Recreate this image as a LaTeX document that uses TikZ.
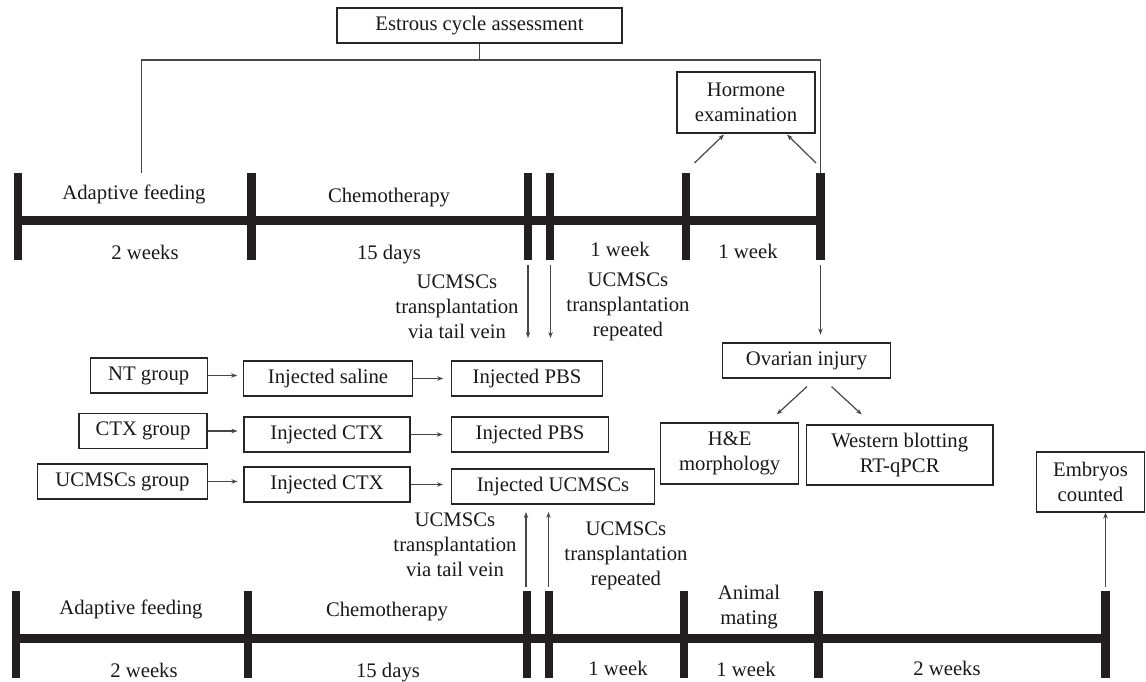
\documentclass[tikz,border=0pt]{standalone}
\usepackage{fontspec}
\setmainfont{Liberation Serif}
\usetikzlibrary{arrows.meta,calc}
\definecolor{tl}{RGB}{35,31,32}
\begin{document}
\begin{tikzpicture}[x=1pt,y=-1pt,
  every node/.style={font=\fontsize{20.7}{25}\selectfont, inner sep=0pt, text=black!90},
  box/.style={draw=black!85, line width=1.1pt, minimum height=35pt, align=center},
  lbl/.style={anchor=base},
  ml/.style={align=center},
  thin/.style={draw=black!72, line width=1.2pt},
  arr/.style={thin, -{Stealth[length=6pt,width=4.5pt]}},
  tk/.style={draw=tl, line width=8.5pt},
  bar/.style={draw=tl, line width=9pt}]
\useasboundingbox (0,0) rectangle (1146,682);

% ---------- top timeline ----------
\foreach \x/\n in {18/a,251.5/b,528/c,550/d,686/e,820.5/f}{
  \draw[tk] (\x,173) -- (\x,260);
  \coordinate (tt\n) at (\x,173);
}
\draw[bar] (18,220.5) -- (820.5,220.5);

\node[lbl] (ta1) at (134,200) {Adaptive feeding};
\node[lbl] (ta2) at (389,202.7) {Chemotherapy};
\node[lbl] (tb1) at (145,259) {2 weeks};
\node[lbl] (tb2) at (389,259) {15 days};
\node[lbl] (tb3) at (620,256) {1 week};
\node[lbl] (tb4) at (748,258) {1 week};

% ---------- top boxes ----------
\node[box, minimum width=285pt] (est) at (479.5,25.5) {Estrous cycle assessment};
\node[box, minimum width=138pt, minimum height=61pt] (horm) at (746,102.5) {Hormone\\examination};

\coordinate (hy) at (0,60);
\coordinate (cl) at (141.6,173);
\draw[thin] (est.south) -- (est.south |- hy);
\draw[thin] (cl) -- (cl |- hy) -- (ttf |- hy) -- (ttf);

\coordinate (ha) at (694.5,163);
\coordinate (hb) at (816,163);
\draw[arr] (ha) -- ($(horm.south)+(-22,1)$);
\draw[arr] (hb) -- ($(horm.south)+(41,1)$);

% ---------- transplantation texts (top) ----------
\node[ml] (tt1) at (457,306.5) {UCMSCs\\transplantation\\via tail vein};
\node[ml] (tt2) at (628,306.7) {UCMSCs\\transplantation\\repeated};
\coordinate (d1s) at (528,265);
\coordinate (d1e) at (528,338);
\coordinate (d2s) at (550.5,265);
\coordinate (d2e) at (550.5,338);
\draw[arr] (d1s) -- (d1e);
\draw[arr] (d2s) -- (d2e);

% ---------- ovarian branch ----------
\node[box, minimum width=168pt] (ov) at (806.5,360.5) {Ovarian injury};
\node[box, minimum width=138pt, minimum height=61pt] (he) at (729.7,453.5) {H\&E\\morphology};
\node[box, minimum width=186.5pt, minimum height=60pt] (wb) at (899.7,455) {Western blotting\\RT-qPCR};
\coordinate (ovs) at (820.5,265);
\draw[arr, shorten >=8pt] (ovs) -- (ovs |- ov.north);
\draw[arr] ($(ov.south)+(0.5,8)$) -- ($(he.north)+(47,-8)$);
\draw[arr] ($(ov.south)+(25,8)$) -- ($(wb.north)+(-38,-10)$);

% ---------- groups ----------
\node[box, minimum width=117pt] (nt) at (148.7,375.5) {NT group};
\node[box, minimum width=168.5pt] (sal) at (328,378.5) {Injected saline};
\node[box, minimum width=150.5pt] (pbs1) at (527,378.5) {Injected PBS};

\node[box, minimum width=128pt] (ctx) at (143,431) {CTX group};
\node[box, minimum width=166pt] (ictx1) at (327,434.5) {Injected CTX};
\node[box, minimum width=157.5pt] (pbs2) at (530,434.5) {Injected PBS};

\node[box, minimum width=170pt] (ucg) at (122.5,481.5) {UCMSCs group};
\node[box, minimum width=166pt] (ictx2) at (327,484.5) {Injected CTX};
\node[box, minimum width=203pt] (iuc) at (553,486.5) {Injected UCMSCs};

\draw[arr, shorten >=6pt] (nt.east) -- (nt.east -| sal.west);
\draw[arr, shorten >=8pt] (sal.east) -- (sal.east -| pbs1.west);
\draw[arr, shorten >=6pt] (ctx.east) -- (ctx.east -| ictx1.west);
\draw[arr, shorten >=8pt] (ictx1.east) -- (ictx1.east -| pbs2.west);
\draw[arr, shorten >=6pt] (ucg.east) -- (ucg.east -| ictx2.west);
\draw[arr, shorten >=8pt] (ictx2.east) -- (ictx2.east -| iuc.west);

% ---------- bottom timeline ----------
\foreach \x/\n in {16/a,248/b,527/c,549/d,684/e,818.5/f,1105.5/g}{
  \draw[tk] (\x,591) -- (\x,678);
  \coordinate (bt\n) at (\x,591);
}
\draw[bar] (16,638.5) -- (1105.5,638.5);

\node[lbl] (ba1) at (131,614) {Adaptive feeding};
\node[lbl] (ba2) at (387,616) {Chemotherapy};
\node[ml] (ba3) at (749,606.9) {Animal\\mating};
\node[lbl] (bb1) at (144,677) {2 weeks};
\node[lbl] (bb2) at (388,677) {15 days};
\node[lbl] (bb3) at (618,675) {1 week};
\node[lbl] (bb4) at (746,676) {1 week};
\node[lbl] (bb5) at (947,675) {2 weeks};

\node[ml] (bt1) at (455,544.8) {UCMSCs\\transplantation\\via tail vein};
\node[ml] (bt2) at (626,556.2) {UCMSCs\\transplantation\\repeated};
\coordinate (u1s) at (526,587);
\coordinate (u1e) at (526,512);
\coordinate (u2s) at (548.5,587);
\coordinate (u2e) at (548.5,512);
\draw[arr] (u1s) -- (u1e);
\draw[arr] (u2s) -- (u2e);

\node[box, minimum width=108pt, minimum height=60pt] (emb) at (1090.5,482) {Embryos\\counted};
\coordinate (es) at (1105.5,587);
\draw[arr] (es) -- (es |- emb.south);
\end{tikzpicture}
\end{document}
